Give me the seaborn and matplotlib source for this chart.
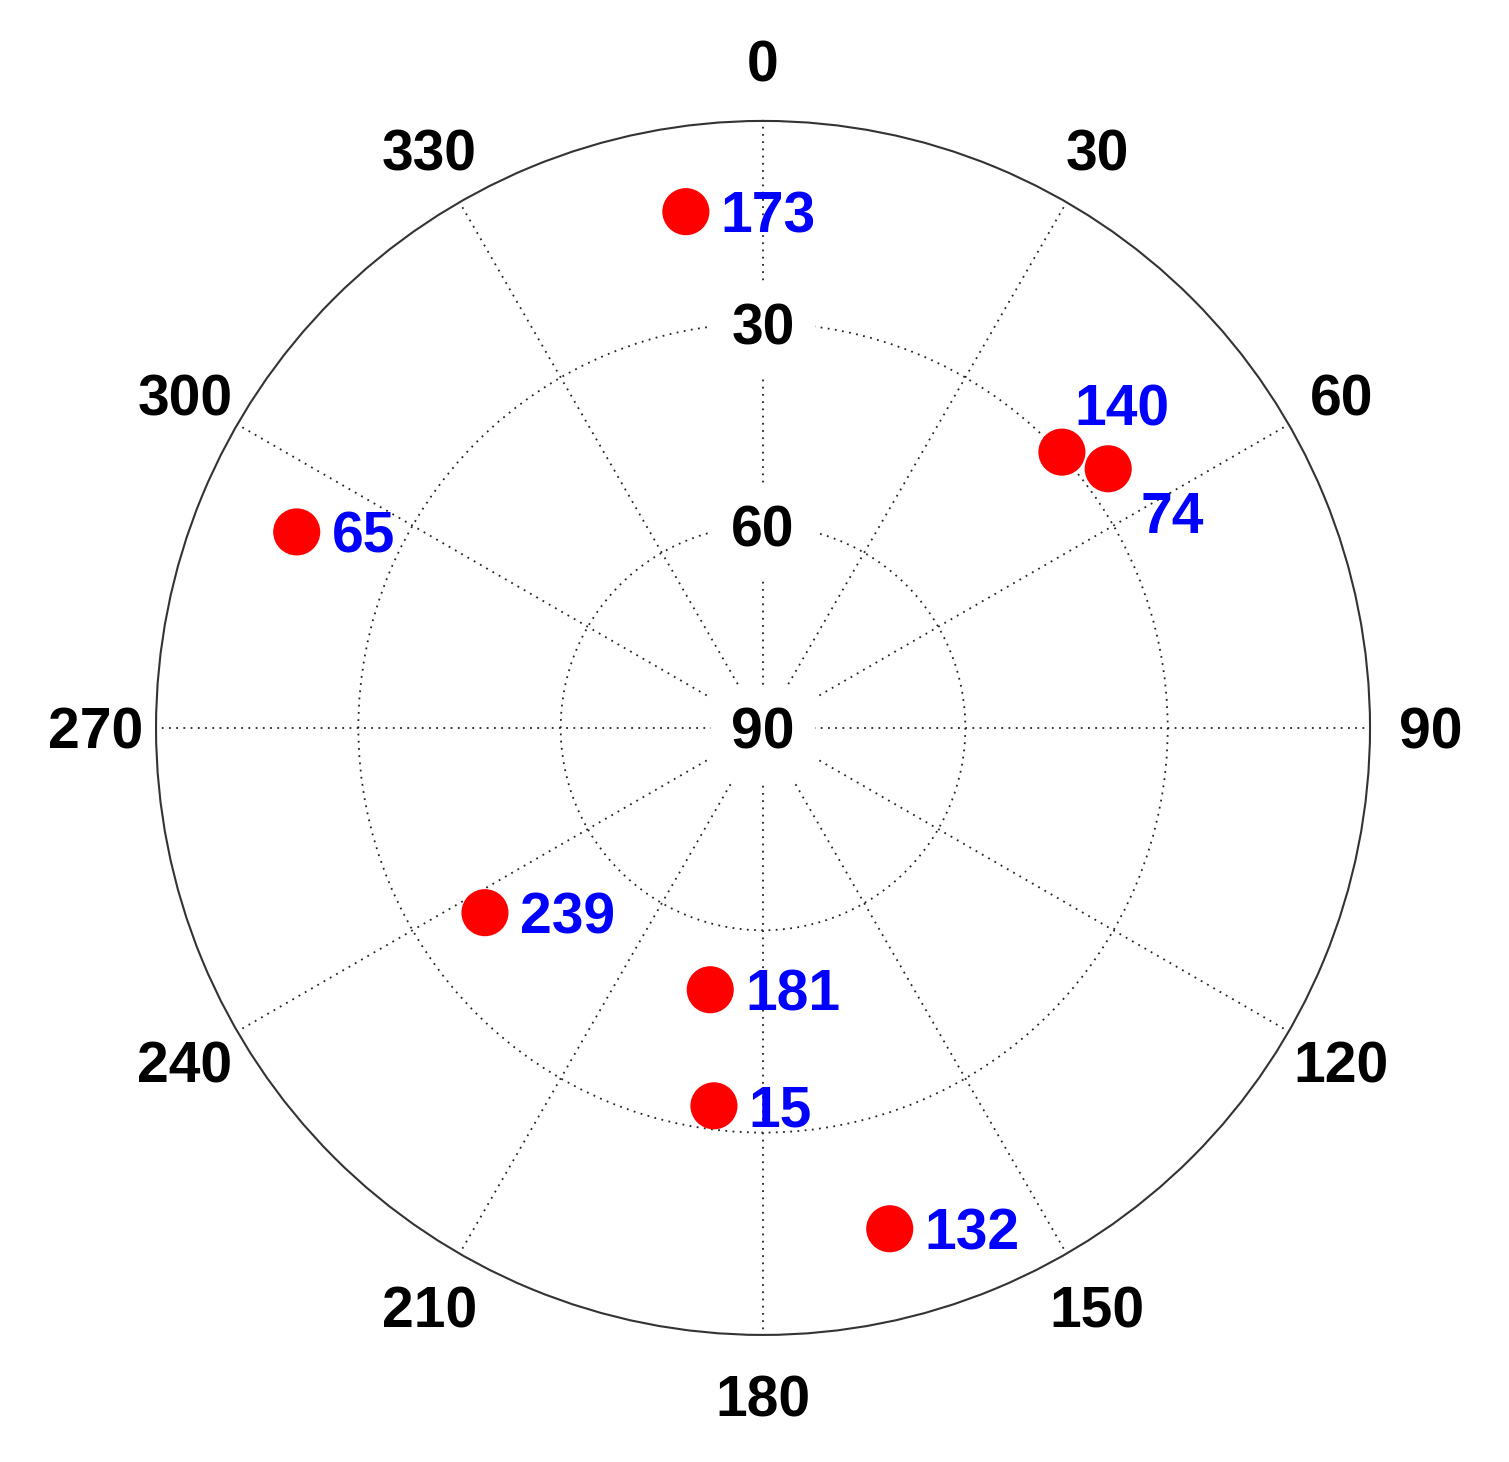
import numpy as np
import pandas as pd
import seaborn as sns
import matplotlib
matplotlib.use("Agg")
import matplotlib.pyplot as plt

# satellites
prn = ["173", "140", "74", "65", "239", "181", "15", "132"]
azimuth = [351.5, 47.3, 53.1, 292.8, 236.4, 191.4, 187.4, 165.8]
elevation = [12.6, 29.7, 26.0, 15.0, 40.5, 50.4, 33.5, 13.4]

az_ticks = list(range(0, 360, 30))
el_ticks = [30, 60, 90]

# label offsets (points) - most sit to the right of the dot
offsets = {"140": (9, 34), "74": (23, -31)}

sns.set_style("white")
plt.rcParams["font.family"] = ["Liberation Sans", "DejaVu Sans"]
plt.rcParams["font.weight"] = "bold"

df = pd.DataFrame({"prn": prn, "az": azimuth, "el": elevation})
df["theta"] = np.deg2rad(df["az"])
df["zen"] = 90 - df["el"]

fig = plt.figure(figsize=(15.09, 14.62), dpi=100)
ax = fig.add_axes([0.1034, 0.0869, 0.8045, 0.8304], projection="polar")
ax.set_theta_zero_location("N")
ax.set_theta_direction(-1)
ax.set_ylim(0, 90)

ax.set_thetagrids(az_ticks, labels=[""] * len(az_ticks))
ax.set_rgrids([30, 60], labels=["", ""])
ax.grid(True, color="#222222", linestyle=(0, (1, 3)), linewidth=1.3)
ax.spines["polar"].set_color("#333333")
ax.spines["polar"].set_linewidth(1.5)
ax.tick_params(length=0)

# azimuth labels round the outside
for a in az_ticks:
    ax.text(np.deg2rad(a), 99, str(a), ha="center", va="center_baseline",
            fontsize=41, fontweight="bold", color="black")

# elevation labels along the north spoke, white boxes cut the grid
for e in el_ticks:
    ax.text(0, 90 - e, str(e), ha="center", va="center_baseline", fontsize=41,
            fontweight="bold", color="black", zorder=4,
            bbox=dict(boxstyle="square,pad=0.35", fc="white", ec="none"))

sns.scatterplot(data=df, x="theta", y="zen", ax=ax, color="#ff0000",
                s=1150, edgecolor="none", zorder=5, legend=False)

for _, row in df.iterrows():
    dx, dy = offsets.get(row["prn"], (25, 0))
    ax.annotate(row["prn"], (row["theta"], row["zen"]), xytext=(dx, dy),
                textcoords="offset points", ha="left", va="center_baseline",
                fontsize=41, fontweight="bold", color="#0000ff", zorder=6)

ax.set_xlabel("")
ax.set_ylabel("")
fig.savefig("out.png", dpi=100)
